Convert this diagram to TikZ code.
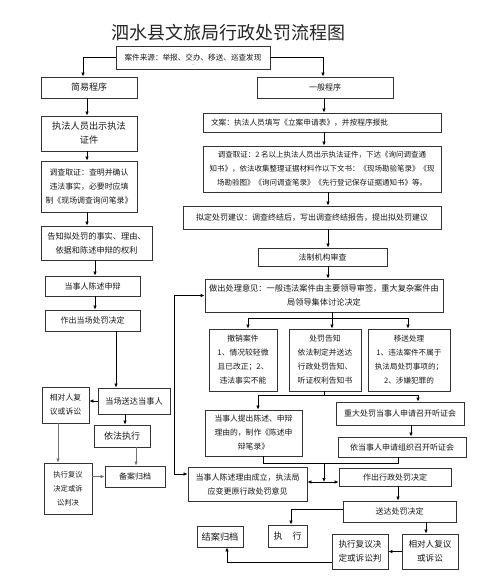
\documentclass[tikz,border=0pt]{standalone}
\usepackage{fontspec}
\newfontfamily\cjk{Noto Sans CJK SC}
\usetikzlibrary{arrows.meta,calc}
\begin{document}
\begin{tikzpicture}[x=1pt,y=-1pt,
  box/.style={draw=black!80, line width=0.9pt, inner sep=0pt, align=center, text=black!90},
  sz/.style 2 args={minimum width=#1pt, minimum height=#2pt},
  fs/.style={font=\cjk\fontsize{#1}{14}\selectfont},
  arr/.style={draw=black, line width=0.8pt, -{Latex[length=4pt,width=3.6pt]}},
  garr/.style={draw=black!55, line width=1pt, -{Latex[length=4pt,width=3.6pt]}},
  arr2/.style={draw=black, line width=0.8pt, {Latex[length=4pt,width=3.6pt]}-{Latex[length=4pt,width=3.6pt]}},
  ln/.style={draw=black, line width=0.8pt}]
\useasboundingbox (0,0) rectangle (494,585);
\fill[white] (0,0) rectangle (494,585);

% title
\node[font=\cjk\fontsize{18}{20}\selectfont, text=black!85] (title) at (228,33) {泗水县文旅局行政处罚流程图};

% source
\node[box, sz={154}{23}, fs=7.6] (src) at (193,57.5) {\raisebox{1pt}{案件来源：举报、交办、移送、巡查发现}};
\node[font=\cjk\fontsize{5}{6}\selectfont, text=black!60, inner sep=0pt] (srcdots) at (193,65.5) {..};

% simple procedure (left)
\node[box, sz={96}{21}, fs=9] (jy) at (89,87.5) {简易程序};
\node[box, sz={96}{35}, fs=9.2] (zf) at (89,133.5) {执法人员出示执法\\证件};
\node[box, sz={96}{51}, fs=7.9] (dcL) at (89,186.5) {调查取证：查明并确认\\违法事实，必要时应填\\制《现场调查询问笔录》};
\node[box, sz={111}{34}, fs=8.2] (gz) at (96.5,243) {告知拟处罚的事实、理由、\\依据和陈述申辩的权利};
\node[box, sz={95}{20}, fs=8] (csL) at (92.5,286) {当事人陈述申辩};
\node[box, sz={95}{21}, fs=8] (zcL) at (92.5,320.5) {作出当场处罚决定};
\node[box, sz={72}{26}, fs=8.2] (sd) at (134,401) {当场送达当事人};
\node[box, sz={47}{36}, fs=7.8] (xdL) at (65.5,405) {相对人复\\议或诉讼};
\node[box, sz={56}{22}, fs=9] (yf) at (122,436) {依法执行};
\node[box, sz={48}{51}, fs=7.3] (zxL) at (68,488.5) {执行复议\\决定或诉\\讼判决};
\node[box, sz={60}{21}, fs=8] (ba) at (135,476.5) {备案归档};

% general procedure (right)
\node[box, sz={136}{21}, fs=8] (yb) at (325,87.5) {一般程序};
\node[box, sz={238}{19}, fs=7.7, inner xsep=8pt, text width=222pt, align=left] (la) at (322,122.5) {文案：执法人员填写《立案申请表》，并按程序报批};
\node[box, sz={238}{46}, fs=7.5] (dcR) at (322,169) {调查取证：2 名以上执法人员出示执法证件，下达《询问调查通\\知书》，依法收集整理证据材料作以下文书：《现场勘验笔录》《现\\场勘验图》《询问调查笔录》《先行登记保存证据通知书》等。};
\node[box, sz={258}{23}, fs=8] (nd) at (312,217.5) {拟定处罚建议：调查终结后，写出调查终结报告，提出拟处罚建议};
\node[box, sz={129}{18}, fs=8] (fz) at (322.5,257) {法制机构审查};
\node[box, sz={238}{33}, fs=8.2] (zc2) at (324,295.5) {做出处理意见：一般违法案件由主要领导审签，重大复杂案件由\\局领导集体讨论决定};
\node[box, sz={68}{62}, fs=7.8] (cx) at (243,360) {撤销案件\\1、情况较轻微\\且已改正；2、\\违法事实不能};
\node[box, sz={72}{62}, fs=7.8] (cf) at (325,360) {处罚告知\\依法制定并送达\\行政处罚告知、\\听证权利告知书};
\node[box, sz={82}{62}, fs=7.6] (ys) at (409,360) {移送处理\\1、违法案件不属于\\执法局处罚事项的；\\2、涉嫌犯罪的};
\node[box, sz={97}{46}, fs=7.8] (tc) at (253.5,433) {当事人提出陈述、申辩\\理由的，制作《陈述申\\辩笔录》};
\node[box, sz={128}{23}, fs=8] (zd) at (400,413.5) {重大处罚当事人申请召开听证会};
\node[box, sz={128}{20}, fs=8] (yd) at (402,447) {依当事人申请组织召开听证会};
\node[box, sz={119}{34}, fs=8] (cl) at (247.5,484) {当事人陈述理由成立，执法局\\应变更原行政处罚意见};
\node[box, sz={112}{18}, fs=8] (xz) at (395,477) {作出行政处罚决定};
\node[box, sz={113}{21}, fs=8] (sdR) at (399.5,511.5) {送达处罚决定};
\node[box, sz={39}{22}, fs=9] (zx) at (287.5,536) {执\hspace{10pt}行};
\node[box, sz={46}{21}, fs=9.2] (ja) at (220,536.5) {结案归档};
\node[box, sz={56}{35}, fs=8.6] (zxR) at (360,551.5) {执行复议决\\定或诉讼判};
\node[box, sz={56}{35}, fs=8.6] (xdR) at (430,551.5) {相对人复议\\或诉讼};

% ---- connectors: left
\draw[arr] (src.west) -| ([xshift=-6pt]jy.north);
\draw[arr] (src.east) -| ([xshift=-2pt]yb.north);
\draw[arr] ([xshift=-2pt]jy.south) -- ([xshift=-2pt]zf.north);
\draw[arr] ([xshift=-2pt]zf.south) -- ([xshift=-2pt]dcL.north);
\coordinate (a5) at ([xshift=-2pt]dcL.south);
\draw[arr] (a5) -- (a5 |- gz.north);
\coordinate (a6) at ([xshift=2.5pt]csL.north);
\draw[arr] (a6 |- gz.south) -- (a6);
\draw[arr] ([xshift=2.5pt]csL.south) -- ([xshift=2.5pt]zcL.north);
\coordinate (a8) at ([xshift=23.5pt]zcL.south);
\draw[arr] (a8) -- (a8 |- sd.north);
\draw[arr] (sd.west) -- (sd.west -| xdL.east);
\coordinate (a10) at ([xshift=3pt]yf.north);
\draw[arr] (a10 |- sd.south) -- (a10);
\coordinate (a11) at ([xshift=-7.5pt]xdL.south);
\draw[garr] (a11) -- (a11 |- zxL.north);
\coordinate (a12) at ([xshift=14pt]yf.south);
\draw[garr] (a12) -- (a12 |- ba.north);
\draw[garr] (zxL.east |- ba.west) -- (ba.west);
\draw[arr2] (zc2.west) -- ++(-30,0) |- ([yshift=10pt]cl.west);

% ---- connectors: right
\coordinate (b1) at ([xshift=-1pt]yb.south);
\draw[arr] (b1) -- (b1 |- la.north);
\draw[arr] (b1 |- la.south) -- (b1 |- dcR.north);
\coordinate (b3) at ([xshift=6pt]dcR.south);
\draw[arr] (b3) -- (b3 |- nd.north);
\draw[arr] (b3 |- nd.south) -- (b3 |- fz.north);
\draw[arr] (b3 |- fz.south) -- (b3 |- zc2.north);
\coordinate (b5) at ([xshift=8pt,yshift=-6pt]zc2.south);
\draw[ln] (b5 |- zc2.south) -- (b5);
\draw[arr] (b5) -| ([xshift=5pt]cx.north);
\draw[arr] (b5) -| ([xshift=-1pt]ys.north);
\draw[arr] (b5) -- (b5 |- cf.north);
\coordinate (b6) at ([xshift=-1pt,yshift=-4pt]cf.south);
\draw[ln] (b6 |- cf.south) -- (b6);
\draw[arr] (b6) -| ([xshift=4.5pt]tc.north);
\draw[arr] (b6) -| ([xshift=18pt]zd.north);
\coordinate (b7) at ([xshift=11pt]zd.south);
\draw[arr] (b7) -- (b7 |- yd.north);
\coordinate (b8) at ([xshift=9.5pt,yshift=-7pt]tc.south);
\draw[ln] ([xshift=9.5pt]tc.south) -- (b8) -| ([xshift=-4pt]yd.south);
\coordinate (m) at (324,482);
\draw[arr] (b8 -| m) -- (m);
\draw[arr2] (cl.east |- m) -- (xz.west |- m);
\coordinate (c1) at ([xshift=-1.5pt]sdR.north);
\draw[arr] (c1 |- xz.south) -- (c1);
\draw[arr] ([yshift=2.5pt]sdR.west) -| ([xshift=3.5pt]zx.north);
\coordinate (c3) at ([xshift=-4pt]xdR.north);
\draw[arr] (c3 |- sdR.south) -- (c3);
\draw[arr] (xdR.west) -- (zxR.east);
\draw[arr] ([yshift=-10.5pt]zxR.west) -| ([xshift=7pt]ja.south);
\end{tikzpicture}
\end{document}
